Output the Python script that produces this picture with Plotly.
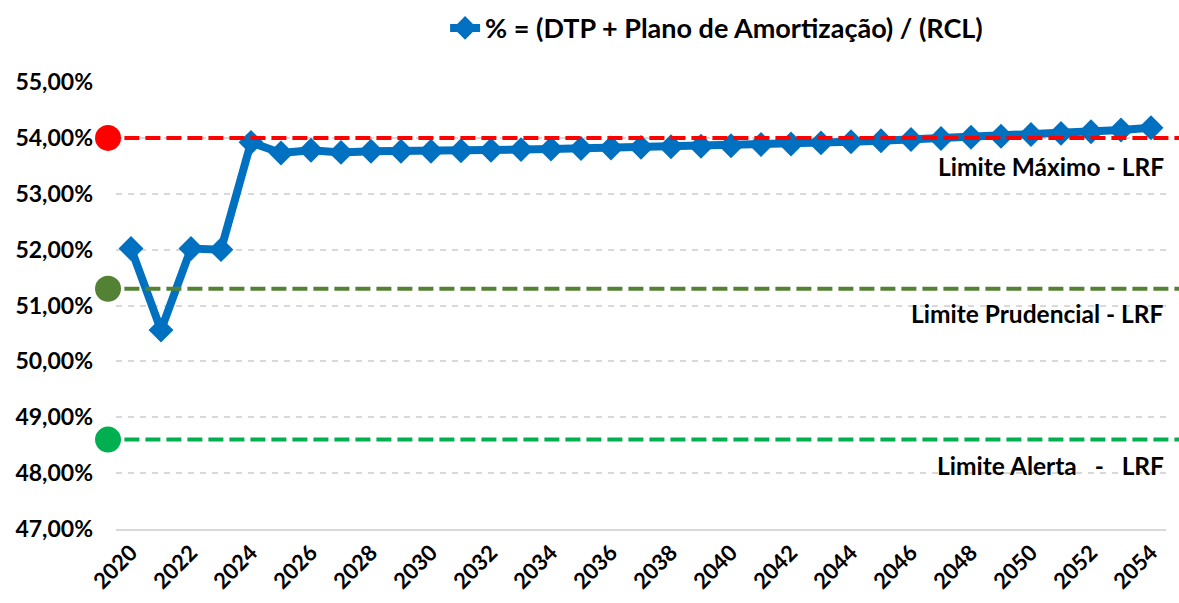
import plotly.graph_objects as go

years = list(range(2020, 2055))
ratio = [52.02, 50.56, 52.02, 52.00, 53.92, 53.73, 53.78, 53.74, 53.76, 53.76,
         53.76, 53.77, 53.78, 53.79, 53.80, 53.81, 53.82, 53.83, 53.84, 53.85,
         53.86, 53.88, 53.89, 53.91, 53.93, 53.95, 53.97, 53.99, 54.01, 54.03,
         54.06, 54.08, 54.11, 54.14, 54.18]
series_name = "% = (DTP + Plano de Amortização) / (RCL)"

limit_names = ["Limite Máximo - LRF", "Limite Prudencial - LRF", "Limite Alerta   -   LRF"]
limit_values = [54.0, 51.3, 48.6]
limit_colors = ["#FF0000", "#548235", "#00B050"]

y_ticks = [47, 48, 49, 50, 51, 52, 53, 54, 55]
y_ticktext = ["47,00%", "48,00%", "49,00%", "50,00%", "51,00%", "52,00%", "53,00%", "54,00%", "55,00%"]
x_ticks = list(range(2020, 2055, 2))

FONT = "Lato"

fig = go.Figure()

# limit lines and dots as shapes
for val, col in zip(limit_values, limit_colors):
    fig.add_shape(type="line", xref="paper", yref="y", x0=0.008, x1=1.02, y0=val, y1=val,
                  line=dict(color=col, width=4, dash="15px,6px"), layer="above")
    fig.add_shape(type="circle", xref="paper", yref="y", xsizemode="pixel", ysizemode="pixel",
                  xanchor=-0.0076, yanchor=val, x0=-13, x1=13, y0=-13, y1=13,
                  fillcolor=col, line=dict(width=0), layer="above")

fig.add_trace(go.Scatter(x=years, y=ratio, mode="lines+markers", name=series_name,
                         line=dict(color="#0070C0", width=8),
                         marker=dict(symbol="diamond", size=17, color="#0070C0",
                                     line=dict(color="#0070C0", width=2)),
                         cliponaxis=False))

# labels for the limits
label_y = [53.48, 50.85, 48.13]
for name, yv in zip(limit_names, label_y):
    fig.add_annotation(x=1.0, xref="paper", y=yv, yref="y", text="<b>" + name + "</b>",
                       showarrow=False, xanchor="right", yanchor="middle",
                       font=dict(family=FONT, size=24.5, color="#000000"))

fig.update_layout(
    width=1179, height=603,
    margin=dict(l=116, r=13, t=82, b=74, autoexpand=False),
    plot_bgcolor="white", paper_bgcolor="white",
    font=dict(family=FONT, size=22, color="#000000", weight="bold"),
    showlegend=True,
    legend=dict(orientation="h", x=0.572, xanchor="center", y=1.12, yanchor="middle",
                font=dict(family=FONT, size=27, color="#000000", weight="bold"),
                bgcolor="rgba(0,0,0,0)"),
    xaxis=dict(range=[2019.5, 2054.5], tickmode="array", tickvals=x_ticks,
               ticktext=[str(v) for v in x_ticks], tickangle=-45, automargin=False,
               showgrid=False, zeroline=False, showline=True, linecolor="#D9D9D9",
               linewidth=2, ticks="", tickfont=dict(family=FONT, size=22, weight="bold")),
    yaxis=dict(range=[47, 55], tickmode="array", tickvals=y_ticks, ticktext=y_ticktext,
               showgrid=True, gridcolor="#D9D9D9", gridwidth=1.5, griddash="6px,6px",
               zeroline=False, showline=False, ticks="", ticklabelstandoff=22, automargin=False,
               tickfont=dict(family=FONT, size=23, weight="bold")),
)

fig.write_html("out.html", config={"displayModeBar": False},
               post_script="document.body.style.margin='0';")
